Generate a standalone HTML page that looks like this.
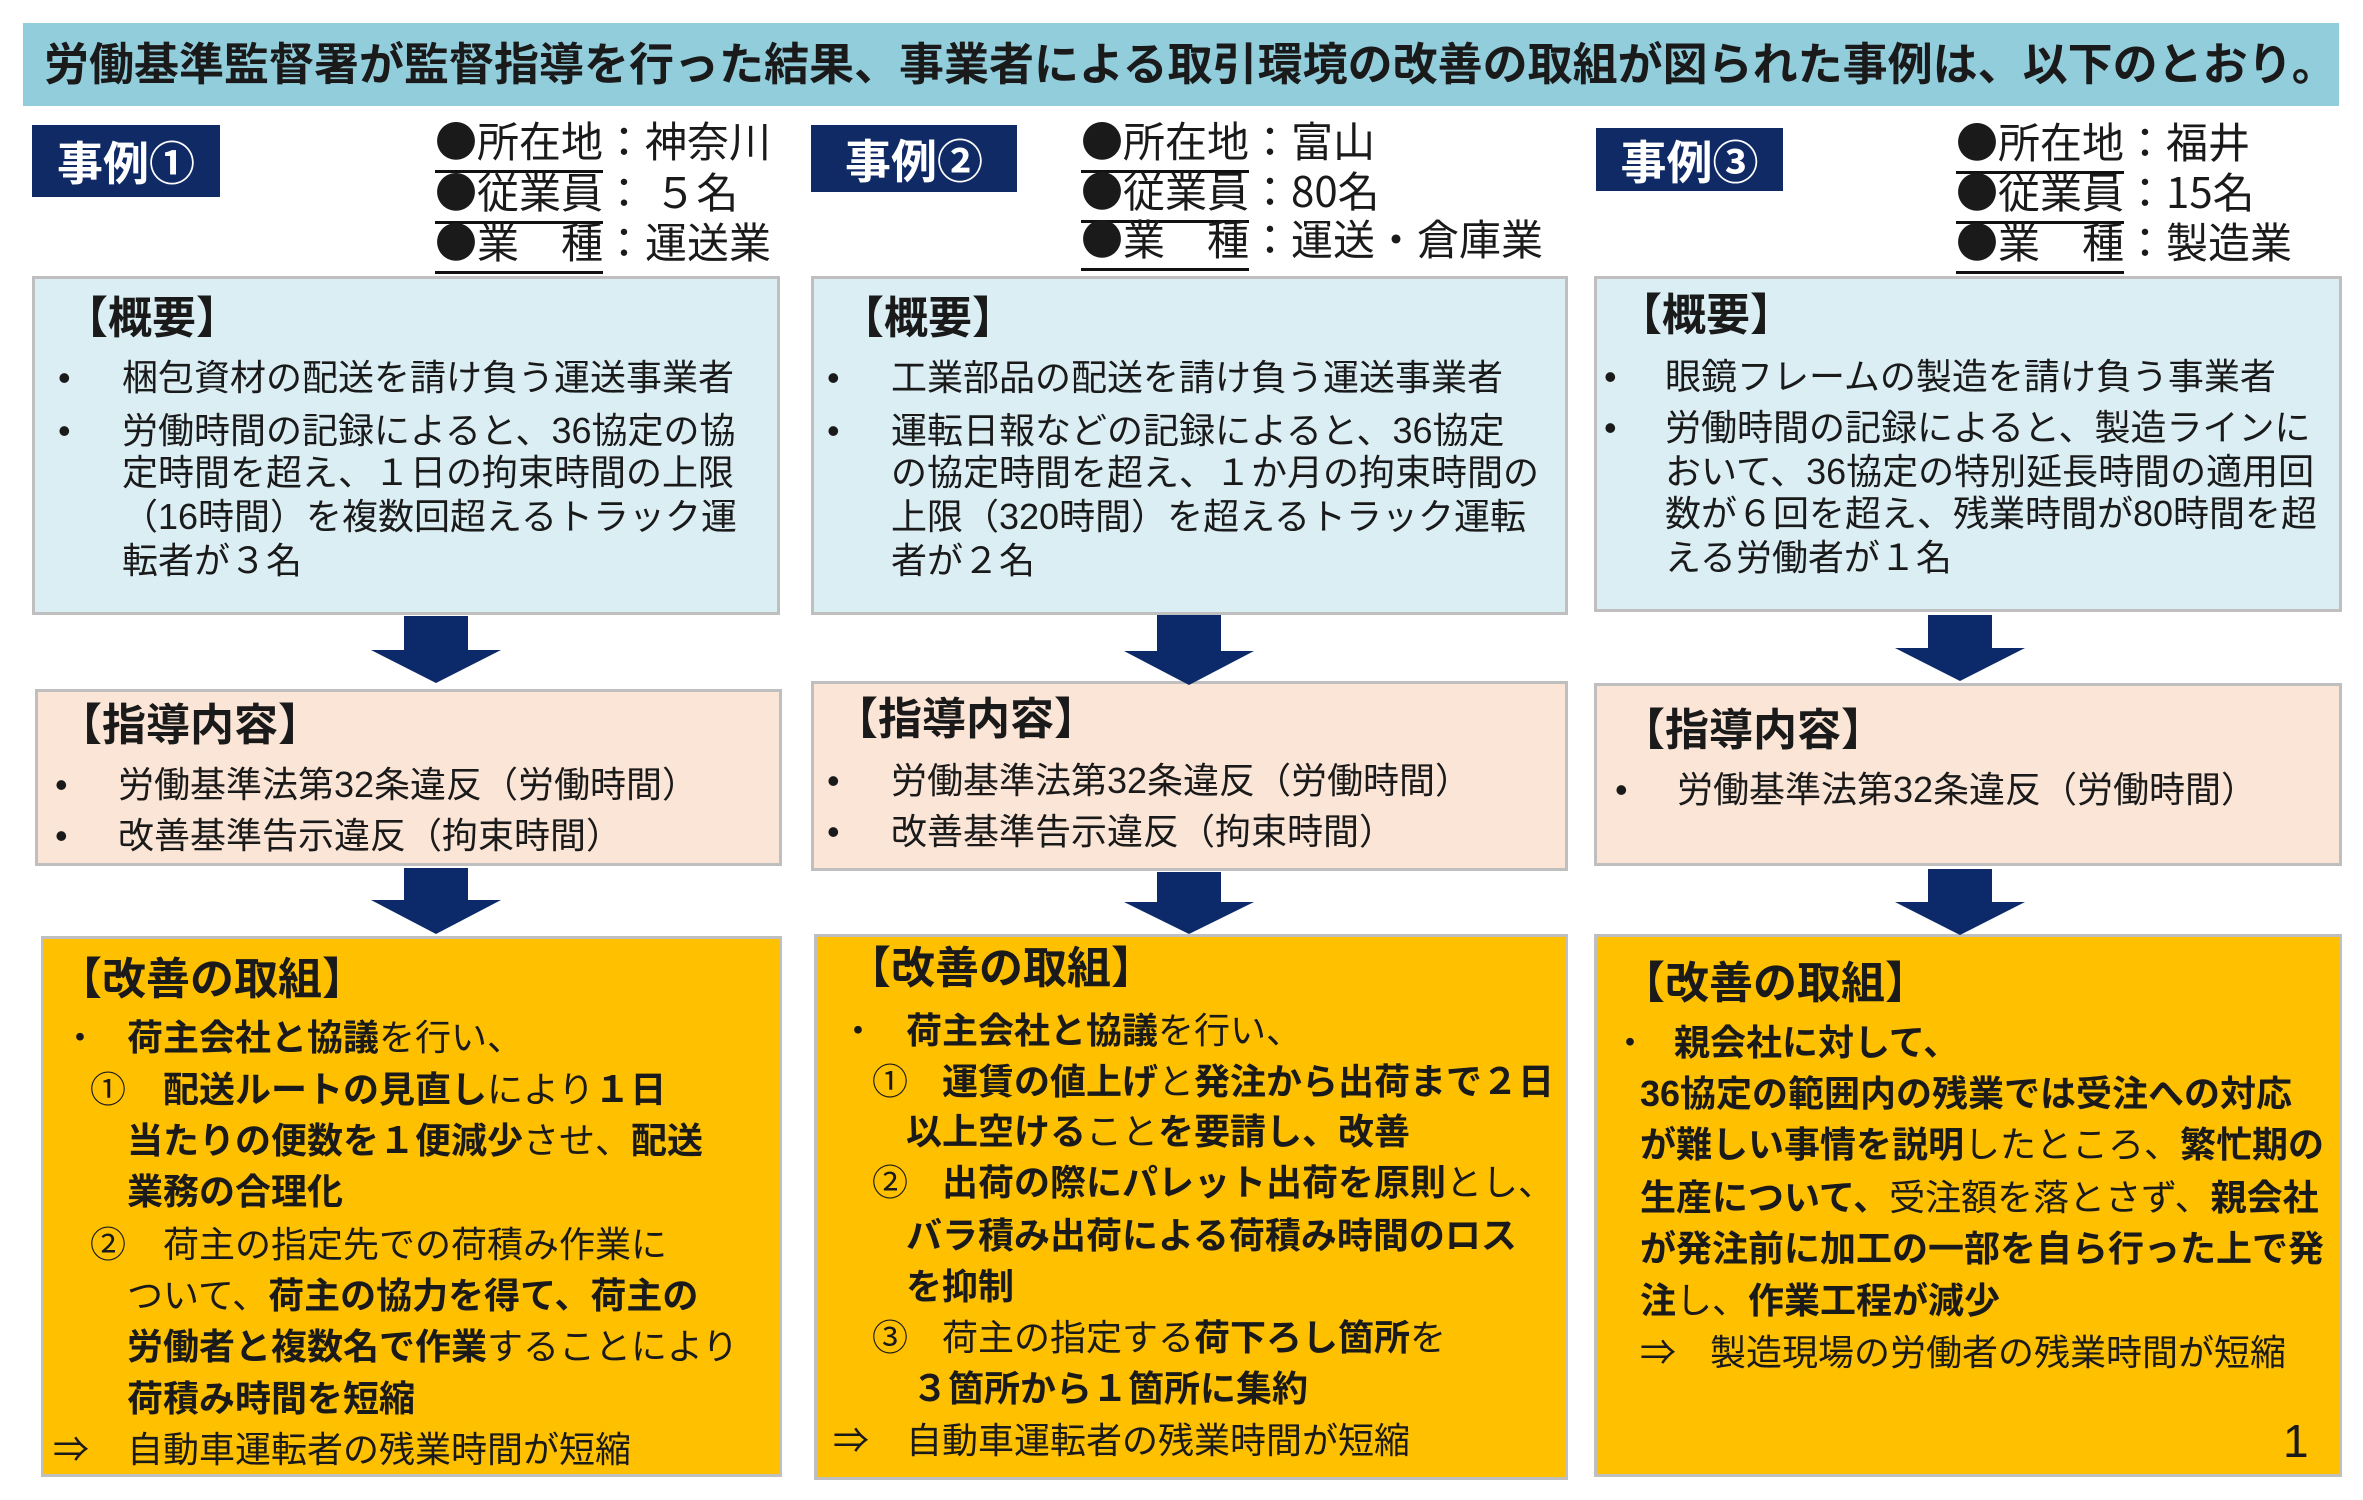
<!DOCTYPE html>
<html><head><meta charset="utf-8"><style>
body{margin:0;width:2363px;height:1500px;background:#fff;position:relative;overflow:hidden;font-family:"Liberation Sans","Noto Sans CJK JP",sans-serif;color:#1a1a1a}
.b{position:absolute;box-sizing:border-box}
.t{position:absolute;white-space:nowrap;line-height:44px;font-size:36px}
.h{font-weight:bold;font-size:44px}
b{font-weight:bold}
.lab{position:absolute;background:#102a66;color:#fff;font-weight:bold;font-size:46px;display:flex;align-items:center;justify-content:center}
.inf{position:absolute;white-space:nowrap;font-size:42px;line-height:48px;font-family:"Noto Sans CJK JP",sans-serif}
.inf span{border-bottom:3px solid #111}
.blue{background:#dbeef4;border:3px solid #bfbfbf}
.pink{background:#fbe5d6;border:3px solid #bfbfbf}
.org{background:#ffc000;border:3px solid #bfbfbf}
</style></head><body>
<div class="b" style="left:23px;top:23px;width:2316px;height:83px;background:#92cddc"></div>
<div class="t" style="left:44px;top:40px;line-height:50px;font-size:45px;font-weight:bold">労働基準監督署が監督指導を行った結果、事業者による取引環境の改善の取組が図られた事例は、以下のとおり。</div>

<div class="lab" style="left:32px;top:125px;width:188px;height:72px">事例①</div>
<div class="lab" style="left:811px;top:125px;width:206px;height:67px">事例②</div>
<div class="lab" style="left:1596px;top:128px;width:187px;height:63px">事例③</div>

<div class="inf" style="left:435px;top:116px"><span>●所在地</span>：神奈川</div>
<div class="inf" style="left:435px;top:167px"><span>●従業員</span>：&nbsp;５名</div>
<div class="inf" style="left:435px;top:217px"><span>●業　種</span>：運送業</div>
<div class="inf" style="left:1081px;top:116px"><span>●所在地</span>：富山</div>
<div class="inf" style="left:1081px;top:166px"><span>●従業員</span>：80名</div>
<div class="inf" style="left:1081px;top:214px"><span>●業　種</span>：運送・倉庫業</div>
<div class="inf" style="left:1956px;top:117px"><span>●所在地</span>：福井</div>
<div class="inf" style="left:1956px;top:167px"><span>●従業員</span>：15名</div>
<div class="inf" style="left:1956px;top:217px"><span>●業　種</span>：製造業</div>

<div class="b blue" style="left:32px;top:276px;width:748px;height:339px"></div>
<div class="b blue" style="left:811px;top:276px;width:757px;height:339px"></div>
<div class="b blue" style="left:1594px;top:276px;width:748px;height:336px"></div>
<div class="b pink" style="left:35px;top:689px;width:747px;height:177px"></div>
<div class="b pink" style="left:811px;top:681px;width:757px;height:190px"></div>
<div class="b pink" style="left:1594px;top:683px;width:748px;height:183px"></div>
<div class="b org" style="left:41px;top:936px;width:741px;height:541px"></div>
<div class="b org" style="left:814px;top:934px;width:754px;height:546px"></div>
<div class="b org" style="left:1594px;top:934px;width:748px;height:543px"></div>

<svg width="2363" height="1500" style="position:absolute;left:0;top:0">
<g fill="#0c2a6a">
<polygon points="404,616 468,616 468,650 501,650 436,683 371,650 404,650"/>
<polygon points="404,868 468,868 468,900 501,900 436,934 371,900 404,900"/>
<polygon points="1157,615 1221,615 1221,651 1254,651 1189,685 1124,651 1157,651"/>
<polygon points="1157,872 1221,872 1221,902 1254,902 1189,934 1124,902 1157,902"/>
<polygon points="1928,615 1992,615 1992,648 2025,648 1960,681 1895,648 1928,648"/>
<polygon points="1928,869 1992,869 1992,902 2025,902 1960,935 1895,902 1928,902"/>
</g></svg>

<div class="t h" style="left:64px;top:297px">【概要】</div>
<div class="t" style="left:58px;top:356px">•</div><div class="t" style="left:122px;top:356px">梱包資材の配送を請け負う運送事業者</div>
<div class="t" style="left:58px;top:409px">•</div><div class="t" style="left:122px;top:409px">労働時間の記録によると、36協定の協</div>
<div class="t" style="left:122px;top:451px">定時間を超え、１日の拘束時間の上限</div>
<div class="t" style="left:122px;top:495px">（16時間）を複数回超えるトラック運</div>
<div class="t" style="left:122px;top:539px">転者が３名</div>
<div class="t h" style="left:840px;top:297px">【概要】</div>
<div class="t" style="left:827px;top:356px">•</div><div class="t" style="left:891px;top:356px">工業部品の配送を請け負う運送事業者</div>
<div class="t" style="left:827px;top:409px">•</div><div class="t" style="left:891px;top:409px">運転日報などの記録によると、36協定</div>
<div class="t" style="left:891px;top:451px">の協定時間を超え、１か月の拘束時間の</div>
<div class="t" style="left:891px;top:495px">上限（320時間）を超えるトラック運転</div>
<div class="t" style="left:891px;top:539px">者が２名</div>
<div class="t h" style="left:1618px;top:294px">【概要】</div>
<div class="t" style="left:1604px;top:355px">•</div><div class="t" style="left:1665px;top:355px">眼鏡フレームの製造を請け負う事業者</div>
<div class="t" style="left:1604px;top:406px">•</div><div class="t" style="left:1665px;top:406px">労働時間の記録によると、製造ラインに</div>
<div class="t" style="left:1665px;top:450px">おいて、36協定の特別延長時間の適用回</div>
<div class="t" style="left:1665px;top:492px">数が６回を超え、残業時間が80時間を超</div>
<div class="t" style="left:1665px;top:536px">える労働者が１名</div>

<div class="t h" style="left:58px;top:704px">【指導内容】</div>
<div class="t" style="left:55px;top:763px">•</div><div class="t" style="left:118px;top:763px">労働基準法第32条違反（労働時間）</div>
<div class="t" style="left:55px;top:814px">•</div><div class="t" style="left:118px;top:814px">改善基準告示違反（拘束時間）</div>
<div class="t h" style="left:834px;top:698px">【指導内容】</div>
<div class="t" style="left:827px;top:759px">•</div><div class="t" style="left:891px;top:759px">労働基準法第32条違反（労働時間）</div>
<div class="t" style="left:827px;top:810px">•</div><div class="t" style="left:891px;top:810px">改善基準告示違反（拘束時間）</div>
<div class="t h" style="left:1621px;top:709px">【指導内容】</div>
<div class="t" style="left:1615px;top:768px">•</div><div class="t" style="left:1677px;top:768px">労働基準法第32条違反（労働時間）</div>

<div class="t h" style="left:58px;top:958px">【改善の取組】</div>
<div class="t" style="left:62px;top:1016px">・</div><div class="t" style="left:127px;top:1016px"><b>荷主会社と協議</b>を行い、</div>
<div class="t" style="left:90px;top:1068px">①</div><div class="t" style="left:163px;top:1068px"><b>配送ルートの見直し</b>により<b>１日</b></div>
<div class="t" style="left:127px;top:1119px"><b>当たりの便数を１便減少</b>させ、<b>配送</b></div>
<div class="t" style="left:127px;top:1170px"><b>業務の合理化</b></div>
<div class="t" style="left:90px;top:1223px">②</div><div class="t" style="left:163px;top:1223px">荷主の指定先での荷積み作業に</div>
<div class="t" style="left:127px;top:1274px">ついて、<b>荷主の協力を得て、荷主の</b></div>
<div class="t" style="left:127px;top:1325px"><b>労働者と複数名で作業</b>することにより</div>
<div class="t" style="left:127px;top:1377px"><b>荷積み時間を短縮</b></div>
<div class="t" style="left:53px;top:1428px">⇒</div><div class="t" style="left:127px;top:1428px">自動車運転者の残業時間が短縮</div>

<div class="t h" style="left:847px;top:947px">【改善の取組】</div>
<div class="t" style="left:840px;top:1009px">・</div><div class="t" style="left:906px;top:1009px"><b>荷主会社と協議</b>を行い、</div>
<div class="t" style="left:872px;top:1060px">①</div><div class="t" style="left:942px;top:1060px"><b>運賃の値上げ</b>と<b>発注から出荷まで２日</b></div>
<div class="t" style="left:906px;top:1110px"><b>以上空ける</b>こと<b>を要請し、改善</b></div>
<div class="t" style="left:872px;top:1161px">②</div><div class="t" style="left:942px;top:1161px"><b>出荷の際にパレット出荷を原則</b>とし、</div>
<div class="t" style="left:906px;top:1214px"><b>バラ積み出荷による荷積み時間のロス</b></div>
<div class="t" style="left:906px;top:1265px"><b>を抑制</b></div>
<div class="t" style="left:872px;top:1316px">③</div><div class="t" style="left:942px;top:1316px">荷主の指定する<b>荷下ろし箇所</b>を</div>
<div class="t" style="left:912px;top:1367px"><b>３箇所から１箇所に集約</b></div>
<div class="t" style="left:833px;top:1419px">⇒</div><div class="t" style="left:906px;top:1419px">自動車運転者の残業時間が短縮</div>

<div class="t h" style="left:1621px;top:962px">【改善の取組】</div>
<div class="t" style="left:1612px;top:1021px">・</div><div class="t" style="left:1674px;top:1021px"><b>親会社に対して、</b></div>
<div class="t" style="left:1640px;top:1072px"><b>36協定の範囲内の残業では受注への対応</b></div>
<div class="t" style="left:1640px;top:1123px"><b>が難しい事情を説明</b>したところ、<b>繁忙期の</b></div>
<div class="t" style="left:1640px;top:1176px"><b>生産について、</b>受注額を落とさず、<b>親会社</b></div>
<div class="t" style="left:1640px;top:1227px"><b>が発注前に加工の一部を自ら行った上で発</b></div>
<div class="t" style="left:1640px;top:1279px"><b>注</b>し、<b>作業工程が減少</b></div>
<div class="t" style="left:1640px;top:1331px">⇒</div><div class="t" style="left:1710px;top:1331px">製造現場の労働者の残業時間が短縮</div>
<div class="t" style="left:2283px;top:1416px;font-size:46px;line-height:50px">1</div>
</body></html>
